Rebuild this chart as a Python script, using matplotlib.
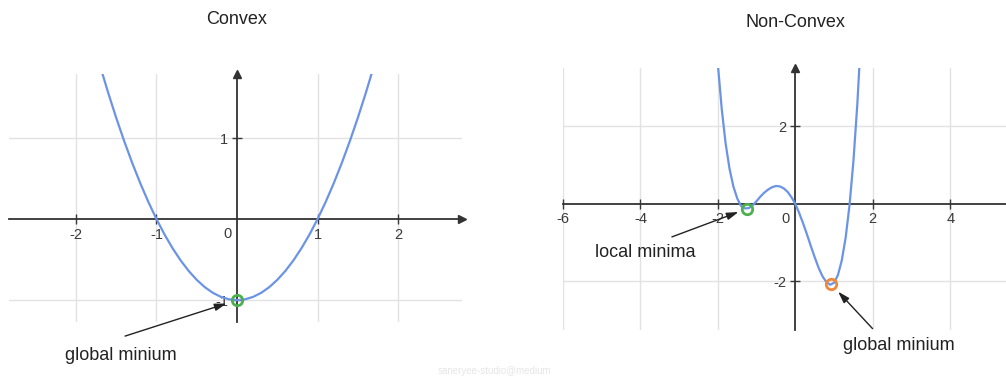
import numpy as np
import matplotlib.pyplot as plt

plt.rcParams['font.family'] = ['Liberation Sans', 'DejaVu Sans']
plt.rcParams['axes.unicode_minus'] = False

# Convex curve
convex_x = [-1.7, -1.6, -1.5, -1.4, -1.3, -1.2, -1.1, -1.0, -0.9, -0.8, -0.7, -0.6,
            -0.5, -0.4, -0.3, -0.2, -0.1, 0.0, 0.1, 0.2, 0.3, 0.4, 0.5, 0.6,
            0.7, 0.8, 0.9, 1.0, 1.1, 1.2, 1.3, 1.4, 1.5, 1.6, 1.7]
convex_y = [1.89, 1.56, 1.25, 0.96, 0.69, 0.44, 0.21, 0.0, -0.19, -0.36, -0.51, -0.64,
            -0.75, -0.84, -0.91, -0.96, -0.99, -1.0, -0.99, -0.96, -0.91, -0.84, -0.75, -0.64,
            -0.51, -0.36, -0.19, 0.0, 0.21, 0.44, 0.69, 0.96, 1.25, 1.56, 1.89]
convex_min = (0.0, -1.0)

# Non-convex curve
nonconvex_x = [-2.0, -1.9, -1.8, -1.7, -1.6, -1.5, -1.4, -1.3, -1.2, -1.1, -1.0, -0.9,
               -0.8, -0.7, -0.6, -0.5, -0.4, -0.3, -0.2, -0.1, 0.0, 0.1, 0.2, 0.3,
               0.4, 0.5, 0.6, 0.7, 0.8, 0.9, 1.0, 1.1, 1.2, 1.3, 1.4, 1.5, 1.6, 1.7]
nonconvex_y = [3.60, 2.45, 1.56, 0.91, 0.45, 0.14, -0.06, -0.12, -0.11, -0.04, 0.07, 0.19,
               0.29, 0.37, 0.43, 0.46, 0.45, 0.40, 0.31, 0.17, 0.0, -0.24, -0.50, -0.79,
               -1.09, -1.38, -1.65, -1.87, -2.02, -2.09, -2.04, -1.84, -1.46, -0.87, -0.03, 1.10, 2.56, 4.40]
local_min = (-1.25, -0.13)
global_min = (0.91, -2.06)

left_xticks = [-2, -1, 1, 2]
left_yticks = [-1, 1]
right_xticks = [-6, -4, -2, 2, 4]
right_yticks = [-2, 2]

CURVE = '#6b93e6'
AXIS = '#333333'
GRID = '#e2e2e2'
GREEN = '#4cb050'
ORANGE = '#f0883a'
TEXT = '#222222'


def setup(ax, xlim, ylim, xticks, yticks, title, title_off, x_arrow=True):
    ax.set_xlim(xlim)
    ax.set_ylim(ylim)
    ax.patch.set_visible(False)
    for s in ['top', 'right']:
        ax.spines[s].set_visible(False)
    for s in ['left', 'bottom']:
        ax.spines[s].set_position(('data', 0))
        ax.spines[s].set_color(AXIS)
        ax.spines[s].set_linewidth(1.3)
    ax.set_xticks(xticks)
    ax.set_yticks(yticks)
    ax.tick_params(direction='inout', length=6.5, width=1, colors='#3a3a3a',
                   labelsize=10.5, pad=3)
    ax.grid(True, color=GRID, lw=1)
    ax.set_axisbelow(True)
    # axis arrows
    if x_arrow:
        ax.plot(1, 0, '>', color=AXIS, ms=6, transform=ax.get_yaxis_transform(), clip_on=False)
    ax.plot(0, 1, '^', color=AXIS, ms=6, transform=ax.get_xaxis_transform(), clip_on=False)
    # origin label
    ax.annotate('0', xy=(0, 0), xytext=(-7, -11), textcoords='offset points',
                ha='center', va='center', fontsize=10.5, color='#3a3a3a')
    ax.annotate(title, xy=(0, 1), xycoords=ax.get_xaxis_transform(),
                xytext=(0, title_off), textcoords='offset points',
                ha='center', va='center', fontsize=13, color=TEXT)


def point_to(ax, label, pt, tail, shrink, text_off):
    ax.annotate('', xy=pt, xytext=tail, textcoords='offset points',
                arrowprops=dict(arrowstyle='-|>,head_length=0.7,head_width=0.22',
                                color=TEXT, lw=1, shrinkA=0, shrinkB=shrink),
                annotation_clip=False)
    ax.annotate(label, xy=pt, xytext=text_off, textcoords='offset points',
                ha='left', va='center', fontsize=13, color=TEXT, annotation_clip=False)


fig = plt.figure(figsize=(10.06, 3.76), dpi=100)
ax1 = fig.add_axes([0.009, 0.1436, 0.450, 0.6596])
ax2 = fig.add_axes([0.5596, 0.1223, 0.4404, 0.697])

## Convex
setup(ax1, (-2.83, 2.79), (-1.27, 1.79), left_xticks, left_yticks, 'Convex', 39)
ax1.plot(convex_x, convex_y, color=CURVE, lw=1.6, zorder=3)
ax1.plot(*convex_min, 'o', ms=7.5, mfc='none', mec=GREEN, mew=2, zorder=4, clip_on=False)
point_to(ax1, 'global minium', convex_min, (-80.6, -25.9), 8, (-123.8, -39.6))

## Non-Convex
setup(ax2, (-6, 5.44), (-3.26, 3.51), right_xticks, right_yticks, 'Non-Convex', 33,
      x_arrow=False)
ax2.plot(nonconvex_x, nonconvex_y, color=CURVE, lw=1.6, zorder=3)
ax2.plot(*local_min, 'o', ms=7.5, mfc='none', mec=GREEN, mew=2, zorder=4)
ax2.plot(*global_min, 'o', ms=7.5, mfc='none', mec=ORANGE, mew=2, zorder=4)
point_to(ax2, 'local minima', local_min, (-54, -20.2), 6.5, (-109.4, -31.7))
point_to(ax2, 'global minium', global_min, (30.2, -32.4), 8, (8.6, -44.6))

fig.text(495 / 1006, 1 - 371 / 376, 'saneryee-studio@medium', color='#e6e6e6',
         fontsize=7, ha='center', va='center')

fig.savefig('out.png', dpi=100)
